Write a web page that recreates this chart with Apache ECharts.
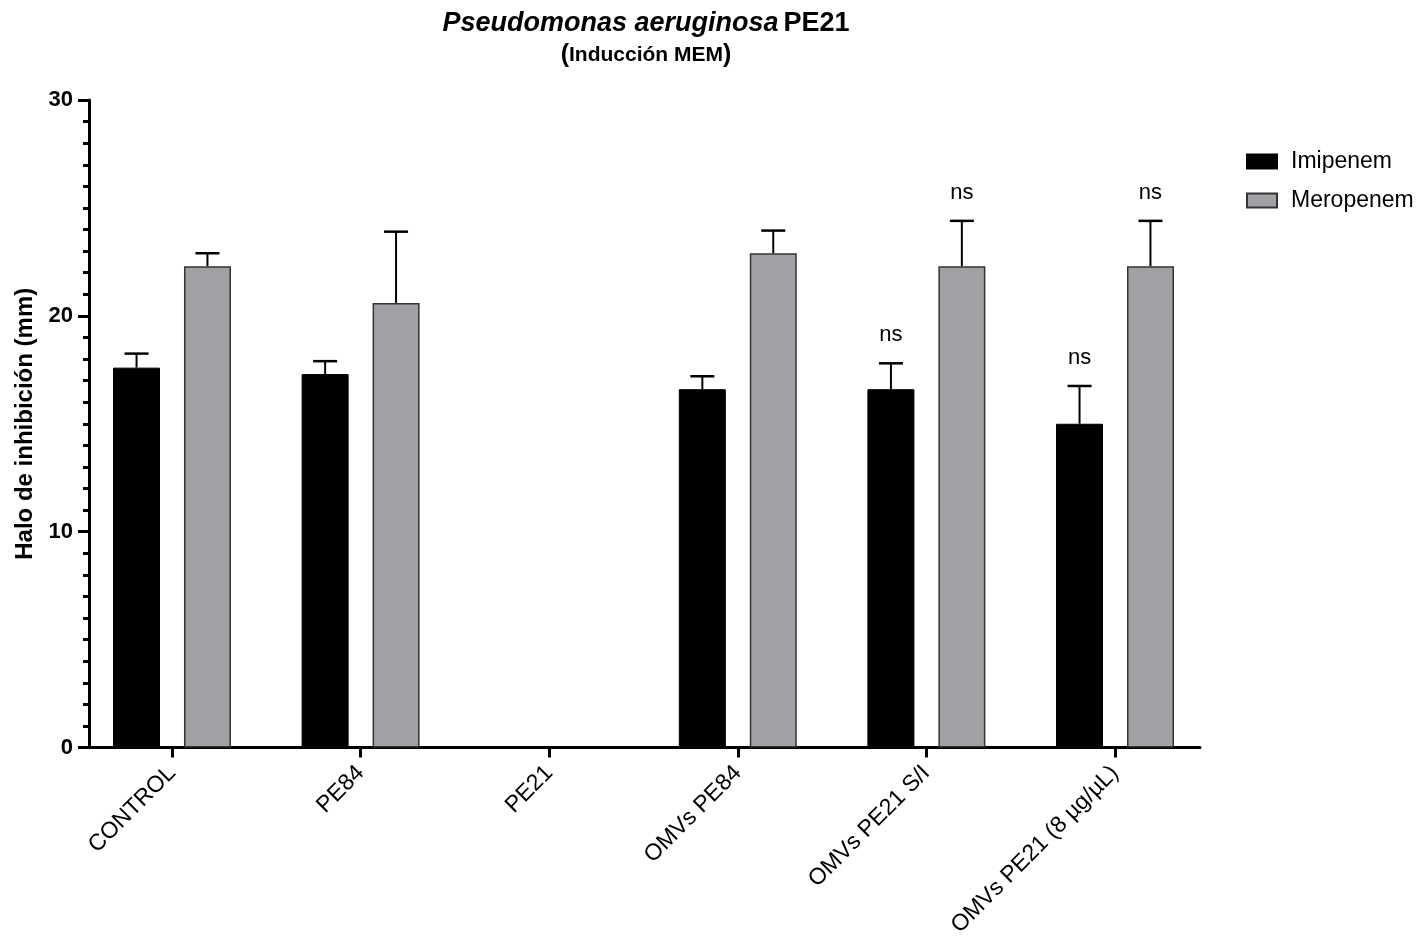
<!DOCTYPE html>
<html>
<head>
<meta charset="utf-8">
<script src="https://cdn.jsdelivr.net/npm/echarts@6/dist/echarts.min.js"></script>
<style>html,body{margin:0;padding:0;background:#fff}#c{width:1425px;height:943px}</style>
</head>
<body>
<div id="c"></div>
<script>
const categories = ['CONTROL', 'PE84', 'PE21', 'OMVs PE84', 'OMVs PE21 S/I', 'OMVs PE21 (8 µg/µL)'];
const imipenem = [17.6, 17.3, 0, 16.6, 16.6, 15.0];
const imipenemSD = [0.65, 0.6, 0, 0.6, 1.2, 1.75];
const meropenem = [22.3, 20.6, 0, 22.9, 22.3, 22.3];
const meropenemSD = [0.6, 3.3, 0, 1.05, 2.1, 2.1];
const imipenemSig = ['', '', '', '', 'ns', 'ns'];
const meropenemSig = ['', '', '', '', 'ns', 'ns'];
const yTicks = [0, 10, 20, 30];

const chart = echarts.init(document.getElementById('c'));
const FONT = "'Liberation Sans', Arial, sans-serif";

function errSeries(name, vals, sds, sig, side) {
  return {
    type: 'custom',
    name: name + '_err',
    xAxisIndex: 0, yAxisIndex: 0,
    z: 5,
    silent: true,
    data: vals.map((v, i) => [i, v, sds[i]]),
    renderItem: function (params, api) {
      const i = api.value(0), v = api.value(1), sd = api.value(2);
      if (!v) return null;
      const band = api.size([1, 0])[0];
      const off = side * band * 0.188;
      const p0 = api.coord([i, v]);
      const p1 = api.coord([i, v + sd]);
      const x = p0[0] + off;
      const children = [
        {type: 'line', shape: {x1: x, y1: p0[1], x2: x, y2: p1[1]}, style: {stroke: '#000', lineWidth: 2}},
        {type: 'line', shape: {x1: x - 12, y1: p1[1], x2: x + 12, y2: p1[1]}, style: {stroke: '#000', lineWidth: 2.5}}
      ];
      const s = sig[i];
      if (s) {
        children.push({type: 'text', x: x, y: p1[1] - 28, style: {text: s, fill: '#000', font: '22px ' + FONT, align: 'center', verticalAlign: 'middle'}});
      }
      return {type: 'group', children: children};
    }
  };
}

function barData(vals) {
  return vals.map(v => v === 0 ? {value: 0, itemStyle: {borderWidth: 0}} : v);
}

chart.setOption({
  animation: false,
  title: {
    text: '{i|Pseudomonas aeruginosa} {b|PE21}',
    subtext: '{p|(}{s|Inducción MEM}{p|)}',
    left: 641, top: 5, textAlign: 'center',
    itemGap: 6,
    textStyle: {rich: {
      i: {fontFamily: FONT, fontSize: 27, fontWeight: 'bold', fontStyle: 'italic', color: '#000'},
      b: {fontFamily: FONT, fontSize: 27, fontWeight: 'bold', color: '#000'}
    }},
    subtextStyle: {rich: {
      s: {fontFamily: FONT, fontSize: 21, fontWeight: 'bold', color: '#000'},
      p: {fontFamily: FONT, fontSize: 25, fontWeight: 'bold', color: '#000'}
    }}
  },
  legend: {
    orient: 'vertical', left: 1241, top: 145,
    itemWidth: 30, itemHeight: 14, itemGap: 16,
    icon: 'rect',
    textStyle: {fontFamily: FONT, fontSize: 23, color: '#000', padding: [0, 0, 0, 9]},
    data: ['Imipenem', 'Meropenem']
  },
  grid: [
    {left: 77.7, right: 215.7, top: 100, bottom: 195.5},
    {left: 89, right: 225, top: 100, bottom: 195.5}
  ],
  xAxis: [
    {
      type: 'category', gridIndex: 0, data: categories,
      axisLine: {show: false},
      axisTick: {show: true, alignWithLabel: true, length: 10, lineStyle: {color: '#000', width: 3}},
      axisLabel: {rotate: 45, margin: 22, interval: 0, fontFamily: FONT, fontSize: 23, color: '#000'}
    },
    {
      type: 'value', gridIndex: 1, min: 0, max: 1,
      axisLine: {show: true, lineStyle: {color: '#000', width: 3}},
      axisTick: {show: false}, axisLabel: {show: false}, splitLine: {show: false}
    }
  ],
  yAxis: [
    {type: 'value', gridIndex: 0, min: 0, max: 30, show: false, splitLine: {show: false}},
    {
      type: 'value', gridIndex: 1, min: 0, max: 30, interval: 10,
      name: 'Halo de inhibición (mm)', nameLocation: 'middle', nameGap: 52,
      nameTextStyle: {fontFamily: FONT, fontSize: 24, fontWeight: 'bold', color: '#000'},
      axisLine: {show: true, lineStyle: {color: '#000', width: 3}},
      axisTick: {show: true, length: 11, lineStyle: {color: '#000', width: 3}},
      minorTick: {show: true, splitNumber: 10, length: 6, lineStyle: {color: '#000', width: 3}},
      axisLabel: {margin: 16, fontFamily: FONT, fontSize: 22, fontWeight: 'bold', color: '#000',
        formatter: v => yTicks.indexOf(v) >= 0 ? String(v) : ''},
      splitLine: {show: false}
    }
  ],
  series: [
    {
      name: 'Imipenem', type: 'bar', xAxisIndex: 0, yAxisIndex: 0,
      data: barData(imipenem), barWidth: 47, barGap: '51%',
      itemStyle: {color: '#000', borderColor: '#000', borderWidth: 1}
    },
    {
      name: 'Meropenem', type: 'bar', xAxisIndex: 0, yAxisIndex: 0,
      data: barData(meropenem), barWidth: 47, barGap: '51%',
      itemStyle: {color: '#a1a0a5', borderColor: '#333', borderWidth: 1.5}
    },
    errSeries('Imipenem', imipenem, imipenemSD, imipenemSig, -1),
    errSeries('Meropenem', meropenem, meropenemSD, meropenemSig, 1)
  ]
});
</script>
</body>
</html>
